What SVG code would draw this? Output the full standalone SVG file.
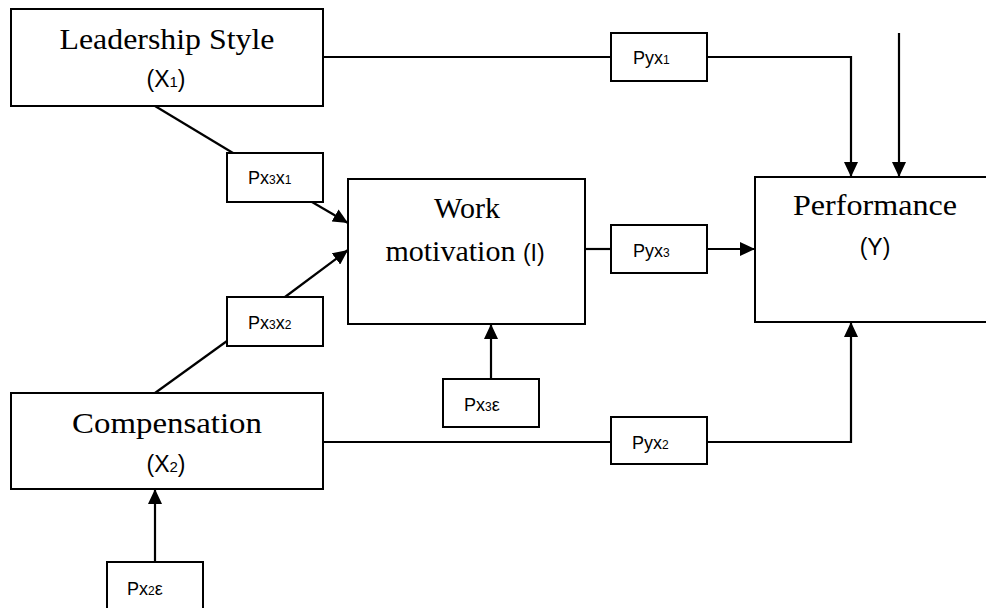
<svg xmlns="http://www.w3.org/2000/svg" width="986" height="608" viewBox="0 0 986 608">
  <style>
    .box { fill: #ffffff; stroke: #000000; stroke-width: 2; }
    .edge { fill: none; stroke: #000000; stroke-width: 2.2; }
    .serif { font-family: "Liberation Serif", "Times New Roman", serif; font-size: 30px; fill: #000000; }
    .sans { font-family: "Liberation Sans", Arial, sans-serif; font-size: 23px; fill: #000000; }
    .sans .sub { font-size: 15px; }
    .coef { font-family: "Liberation Sans", Arial, sans-serif; font-size: 18px; fill: #000000; }
    .coef .sub { font-size: 12px; }
  </style>
  <defs>
    <marker id="arrow" markerWidth="16" markerHeight="14" refX="15" refY="7" orient="auto" markerUnits="userSpaceOnUse">
      <path d="M0,0 L15,7 L0,14 Z" fill="#000000"/>
    </marker>
  </defs>

  <rect width="986" height="608" fill="#ffffff"/>

  <!-- connectors -->
  <g id="connectors">
    <path class="edge" d="M323,57 H611"/>
    <path class="edge" d="M707,57 H851 V177" marker-end="url(#arrow)"/>
    <path class="edge" d="M899,33 V177" marker-end="url(#arrow)"/>
    <path class="edge" d="M155,106 L233,153"/>
    <path class="edge" d="M312,202 L348,223" marker-end="url(#arrow)"/>
    <path class="edge" d="M155,393 L227,341"/>
    <path class="edge" d="M285,297 L348,250" marker-end="url(#arrow)"/>
    <path class="edge" d="M585,249 H611"/>
    <path class="edge" d="M707,249 H755" marker-end="url(#arrow)"/>
    <path class="edge" d="M491,379 V324" marker-end="url(#arrow)"/>
    <path class="edge" d="M323,442 H611"/>
    <path class="edge" d="M707,442 H851 V322" marker-end="url(#arrow)"/>
    <path class="edge" d="M155,562 V489" marker-end="url(#arrow)"/>
  </g>

  <!-- main variables -->
  <g id="leadership">
    <rect class="box" x="11" y="9" width="312" height="97"/>
    <text class="serif" x="167" y="49" text-anchor="middle" textLength="215" lengthAdjust="spacingAndGlyphs">Leadership Style</text>
    <text class="sans" x="166" y="87" text-anchor="middle">(X<tspan class="sub">1</tspan>)</text>
  </g>

  <g id="compensation">
    <rect class="box" x="11" y="393" width="312" height="96"/>
    <text class="serif" x="167" y="433" text-anchor="middle" textLength="190" lengthAdjust="spacingAndGlyphs">Compensation</text>
    <text class="sans" x="166" y="472" text-anchor="middle">(X<tspan class="sub">2</tspan>)</text>
  </g>

  <g id="work-motivation">
    <rect class="box" x="348" y="179" width="237" height="145"/>
    <text class="serif" x="467" y="218" text-anchor="middle">Work</text>
    <text x="465" y="261" text-anchor="middle"><tspan class="serif">motivation </tspan><tspan class="sans">(I)</tspan></text>
  </g>

  <g id="performance">
    <rect class="box" x="755" y="177" width="240" height="145"/>
    <text class="serif" x="875" y="215" text-anchor="middle" textLength="164" lengthAdjust="spacingAndGlyphs">Performance</text>
    <text class="sans" x="875" y="255" text-anchor="middle">(Y)</text>
  </g>

  <!-- path coefficients -->
  <g id="pyx1">
    <rect class="box" x="611" y="33" width="96" height="48"/>
    <text class="coef" x="633" y="64">Pyx<tspan class="sub">1</tspan></text>
  </g>

  <g id="px3x1">
    <rect class="box" x="227" y="153" width="96" height="49"/>
    <text class="coef" x="248" y="184">Px<tspan class="sub">3</tspan>x<tspan class="sub">1</tspan></text>
  </g>

  <g id="px3x2">
    <rect class="box" x="227" y="297" width="96" height="49"/>
    <text class="coef" x="248" y="329">Px<tspan class="sub">3</tspan>x<tspan class="sub">2</tspan></text>
  </g>

  <g id="pyx3">
    <rect class="box" x="611" y="225" width="96" height="48"/>
    <text class="coef" x="633" y="257">Pyx<tspan class="sub">3</tspan></text>
  </g>

  <g id="px3e">
    <rect class="box" x="443" y="379" width="96" height="48"/>
    <text class="coef" x="464" y="411">Px<tspan class="sub">3</tspan>ε</text>
  </g>

  <g id="pyx2">
    <rect class="box" x="611" y="417" width="96" height="47"/>
    <text class="coef" x="632" y="449">Pyx<tspan class="sub">2</tspan></text>
  </g>

  <g id="px2e">
    <rect class="box" x="107" y="562" width="96" height="60"/>
    <text class="coef" x="127" y="595">Px<tspan class="sub">2</tspan>ε</text>
  </g>
</svg>
